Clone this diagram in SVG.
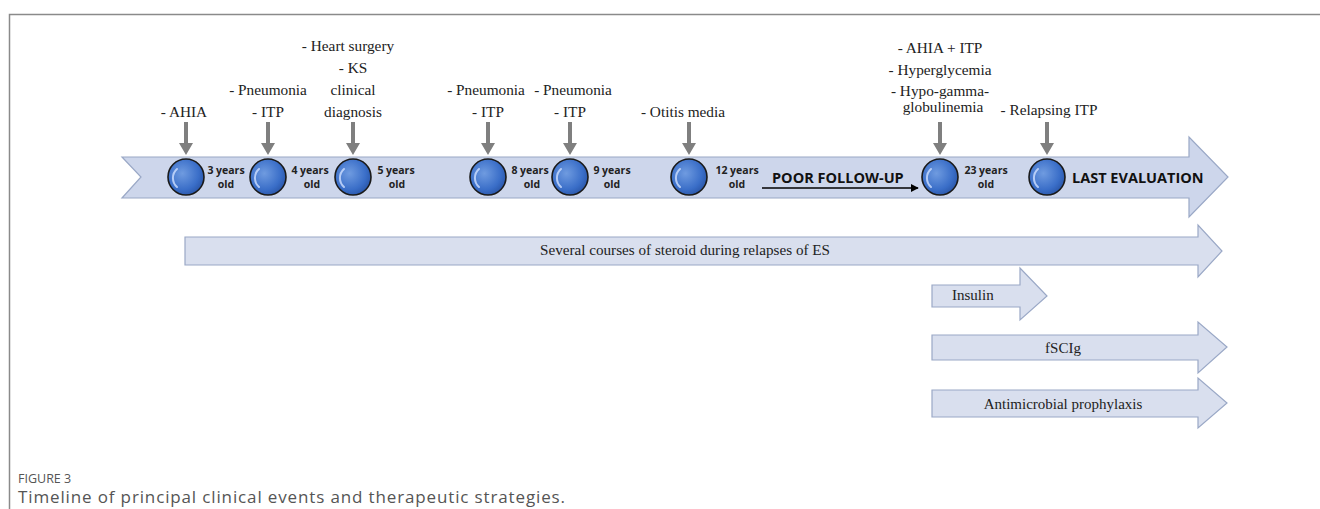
<svg xmlns="http://www.w3.org/2000/svg" width="1320" height="509" viewBox="0 0 1320 509">
<defs>
<radialGradient id="ball" cx="0.4" cy="0.4" r="0.65">
<stop offset="0" stop-color="#6f9be0"/>
<stop offset="0.7" stop-color="#3a6ec8"/>
<stop offset="1" stop-color="#2a56a8"/>
</radialGradient>
<marker id="blk" viewBox="0 0 10 10" refX="9" refY="5" markerWidth="8" markerHeight="8" markerUnits="userSpaceOnUse" orient="auto"><path d="M0,0 L10,5 L0,10 z" fill="#000"/></marker>
</defs>
<style>
.ev{font-family:"Liberation Serif",serif;font-size:15.3px;fill:#222;text-anchor:middle}
.age{font-family:"Open Sans","Liberation Sans",sans-serif;font-weight:bold;font-size:10.5px;fill:#222;text-anchor:middle}
.big{font-family:"Open Sans","Liberation Sans",sans-serif;font-weight:bold;font-size:14.5px;fill:#111}
.tx{font-family:"Liberation Serif",serif;font-size:15px;fill:#222}
.arr{fill:#d9dfee;stroke:#9aa8c6;stroke-width:1.2}
.dn{fill:#7f7f7f}
.ring{fill:url(#ball);stroke:#1a1a1a;stroke-width:1.6}
.hl{fill:none;stroke:#cfe0ff;stroke-width:2;stroke-linecap:round;opacity:0.8}
.cap{font-family:"Open Sans","Noto Sans",sans-serif;fill:#555}
</style>
<rect width="1320" height="509" fill="#fff"/>
<path d="M9.5,509 V14.5 H1320" fill="none" stroke="#8a8a8a" stroke-width="1.5"/>

<g id="timeline">
<path class="arr" d="M122,157 H1189 V137 L1228,177 L1189,217 V198 H122 L141,177 Z" style="fill:#cdd6eb"/>
</g>

<g id="connectors">
<g class="dn">
<path d="M184,122 h4 v21 h5 l-7,12 l-7,-12 h5 z"/>
<path d="M266,122 h4 v21 h5 l-7,12 l-7,-12 h5 z"/>
<path d="M351,122 h4 v21 h5 l-7,12 l-7,-12 h5 z"/>
<path d="M486,122 h4 v21 h5 l-7,12 l-7,-12 h5 z"/>
<path d="M568,122 h4 v21 h5 l-7,12 l-7,-12 h5 z"/>
<path d="M687,122 h4 v21 h5 l-7,12 l-7,-12 h5 z"/>
<path d="M938,122 h4 v21 h5 l-7,12 l-7,-12 h5 z"/>
<path d="M1045,122 h4 v21 h5 l-7,12 l-7,-12 h5 z"/>
</g>
<line x1="762" y1="188" x2="918" y2="188" stroke="#000" stroke-width="1.5" marker-end="url(#blk)"/>
</g>

<g id="n-3y"><circle class="ring" cx="186" cy="177" r="18"/><path class="hl" d="M177,187 a12,12 0 0 1 0,-18"/><text class="age" x="226" y="174">3 years</text><text class="age" x="226" y="188">old</text><text class="ev" x="184" y="117">- AHIA</text></g>
<g id="n-4y"><circle class="ring" cx="268" cy="177" r="18"/><path class="hl" d="M259,187 a12,12 0 0 1 0,-18"/><text class="age" x="310" y="174">4 years</text><text class="age" x="312" y="188">old</text><text class="ev" x="268" y="95">- Pneumonia</text><text class="ev" x="268" y="117">- ITP</text></g>
<g id="n-5y"><circle class="ring" cx="353" cy="177" r="18"/><path class="hl" d="M344,187 a12,12 0 0 1 0,-18"/><text class="age" x="396" y="174">5 years</text><text class="age" x="397" y="188">old</text><text class="ev" x="348" y="51">- Heart surgery</text><text class="ev" x="353" y="73">- KS</text><text class="ev" x="353" y="95">clinical</text><text class="ev" x="353" y="117">diagnosis</text></g>
<g id="n-8y"><circle class="ring" cx="488" cy="177" r="18"/><path class="hl" d="M479,187 a12,12 0 0 1 0,-18"/><text class="age" x="530" y="174">8 years</text><text class="age" x="532" y="188">old</text><text class="ev" x="486" y="95">- Pneumonia</text><text class="ev" x="488" y="117">- ITP</text></g>
<g id="n-9y"><circle class="ring" cx="570" cy="177" r="18"/><path class="hl" d="M561,187 a12,12 0 0 1 0,-18"/><text class="age" x="612" y="174">9 years</text><text class="age" x="612" y="188">old</text><text class="ev" x="573" y="95">- Pneumonia</text><text class="ev" x="570" y="117">- ITP</text></g>
<g id="n-12y"><circle class="ring" cx="689" cy="177" r="18"/><path class="hl" d="M680,187 a12,12 0 0 1 0,-18"/><text class="age" x="737" y="174">12 years</text><text class="age" x="737" y="188">old</text><text class="ev" x="683" y="117">- Otitis media</text></g>
<g id="poor"><text class="big" x="772" y="183">POOR FOLLOW-UP</text></g>
<g id="n-23y"><circle class="ring" cx="940" cy="177" r="18"/><path class="hl" d="M931,187 a12,12 0 0 1 0,-18"/><text class="age" x="986" y="174">23 years</text><text class="age" x="986" y="188">old</text><text class="ev" x="940" y="53">- AHIA + ITP</text><text class="ev" x="940" y="75">- Hyperglycemia</text><text class="ev" x="940" y="96">- Hypo-gamma-</text><text class="ev" x="943" y="112">globulinemia</text></g>
<g id="n-last"><circle class="ring" cx="1047" cy="177" r="18"/><path class="hl" d="M1038,187 a12,12 0 0 1 0,-18"/><text class="ev" x="1049" y="115">- Relapsing ITP</text><text class="big" x="1072" y="183">LAST EVALUATION</text></g>

<g id="steroid"><path class="arr" d="M185,237 H1198 V225 L1222,251 L1198,277 V265 H185 Z"/><text class="tx" x="685" y="255" text-anchor="middle" textLength="290" lengthAdjust="spacingAndGlyphs">Several courses of steroid during relapses of ES</text></g>
<g id="insulin"><path class="arr" d="M932,285 H1020 V268 L1047,296 L1020,320 V307 H932 Z"/><text class="tx" x="952" y="300">Insulin</text></g>
<g id="fscig"><path class="arr" d="M932,335 H1198 V322 L1227,347 L1198,373 V360 H932 Z"/><text class="tx" x="1063" y="353" text-anchor="middle">fSCIg</text></g>
<g id="antimicrobial"><path class="arr" d="M932,390 H1198 V378 L1227,403 L1198,428 V417 H932 Z"/><text class="tx" x="1063" y="409" text-anchor="middle">Antimicrobial prophylaxis</text></g>

<g id="caption">
<text class="cap" x="18" y="483" font-size="12.5">FIGURE 3</text>
<text class="cap" x="18" y="503" font-size="17" textLength="547" lengthAdjust="spacing">Timeline of principal clinical events and therapeutic strategies.</text>
</g>
</svg>
